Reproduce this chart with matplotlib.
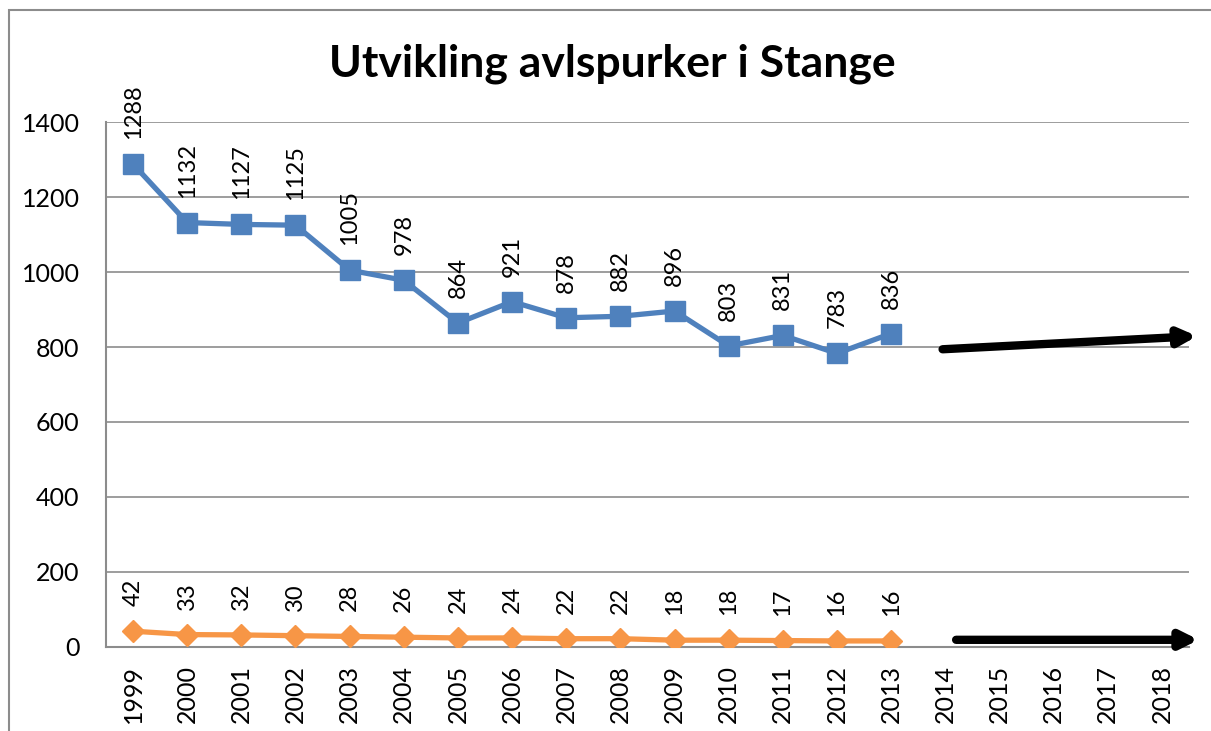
import matplotlib.pyplot as plt
from matplotlib.patches import Rectangle

years = [str(y) for y in range(1999, 2019)]
avlspurker = [1288, 1132, 1127, 1125, 1005, 978, 864, 921, 878, 882, 896, 803, 831, 783, 836]
besetninger = [42, 33, 32, 30, 28, 26, 24, 24, 22, 22, 18, 18, 17, 16, 16]

plt.rcParams['font.family'] = ['Lato', 'DejaVu Sans']

fig = plt.figure(figsize=(12.11, 7.31), dpi=100)
ax = fig.add_axes([0.0875, 0.115, 0.8943, 0.718])

# outer chart border (open to the right and bottom)
fig.patches.append(Rectangle((9 / 1211, -0.05), 1.2, 1 - 10 / 731 + 0.05, transform=fig.transFigure,
                             fill=False, ec='#8c8c8c', lw=1.5))

x = list(range(len(avlspurker)))
ax.plot(x, avlspurker, color='#4F81BD', lw=3.8, marker='s', ms=14, zorder=3)
ax.plot(x, besetninger, color='#F79646', lw=3.8, marker='D', ms=11, zorder=3)

for i, v in enumerate(avlspurker):
    ax.annotate(str(v), (i, v), xytext=(0, 18), textcoords='offset points',
                rotation=90, ha='center', va='bottom', fontsize=17)
for i, v in enumerate(besetninger):
    ax.annotate(str(v), (i, v), xytext=(0, 18), textcoords='offset points',
                rotation=90, ha='center', va='bottom', fontsize=17)

# trend arrows
arrow = dict(arrowstyle='-|>,head_length=1.0,head_width=0.5', color='black', lw=6,
             shrinkA=0, shrinkB=0)
ax.annotate('', xy=(19.65, 829), xytext=(14.95, 794), arrowprops=arrow, annotation_clip=False)
ax.annotate('', xy=(19.68, 19), xytext=(15.2, 19), arrowprops=arrow, annotation_clip=False)

ax.set_xlim(-0.5, len(years) - 0.5)
ax.set_ylim(0, 1400)
ax.set_yticks(range(0, 1401, 200))
ax.set_xticks(range(len(years)))
ax.set_xticklabels(years, rotation=90)
ax.tick_params(axis='both', length=0, labelsize=18, pad=13)
ax.tick_params(axis='y', pad=19)
ax.grid(axis='y', color='#8c8c8c', lw=1.2)
ax.set_axisbelow(True)
for s in ['top', 'right']:
    ax.spines[s].set_visible(False)
for s in ['left', 'bottom']:
    ax.spines[s].set_color('#8c8c8c')
    ax.spines[s].set_linewidth(1.5)

fig.text(0.506, 0.913, 'Utvikling avlspurker i Stange', ha='center', va='center',
         fontsize=32, fontweight='bold')

fig.savefig('out.png')
